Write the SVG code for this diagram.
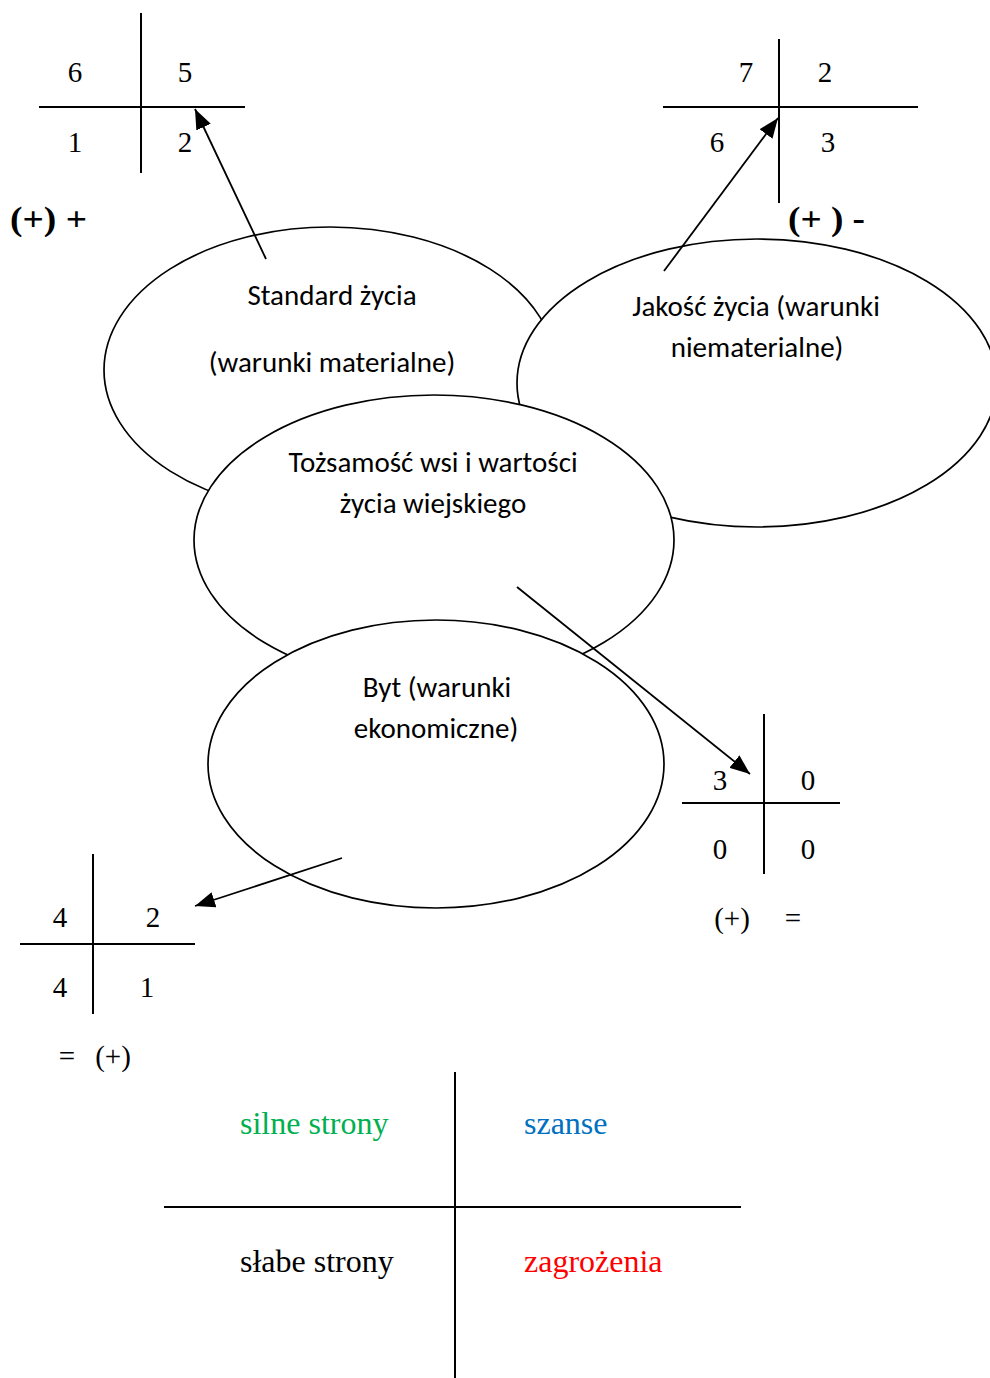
<svg xmlns="http://www.w3.org/2000/svg" width="990" height="1378" viewBox="0 0 990 1378">
<style>
.bg{fill:#fff}
.ell{fill:#fff;stroke:#000;stroke-width:1.7}
.grid{stroke:#000;stroke-width:2;fill:none}
.num{font-family:"Liberation Serif","Times New Roman",serif;font-size:29px;fill:#000;text-anchor:middle}
.bold{font-family:"Liberation Serif","Times New Roman",serif;font-size:33px;font-weight:bold;fill:#000}
.lbl{font-family:Carlito,Lato,"Open Sans",sans-serif;font-size:29px;fill:#000;text-anchor:middle}
.leg{font-family:"Liberation Serif","Times New Roman",serif;font-size:32px}
.conn{stroke:#000;stroke-width:1.8;fill:none;marker-end:url(#ah)}
</style>
<defs>
<marker id="ah" markerUnits="userSpaceOnUse" markerWidth="22" markerHeight="16" refX="20" refY="8" orient="auto">
<path d="M0,0 L20,8 L0,16 Z" fill="#000"/>
</marker>
</defs>
<rect class="bg" x="0" y="0" width="990" height="1378"/>

<g id="grid-top-left">
<line class="grid" x1="141" y1="13" x2="141" y2="173"/>
<line class="grid" x1="39" y1="107" x2="245" y2="107"/>
<text class="num" x="75" y="82">6</text>
<text class="num" x="185" y="82">5</text>
<text class="num" x="75" y="152">1</text>
<text class="num" x="185" y="152">2</text>
<text class="bold" x="10" y="230" textLength="77" lengthAdjust="spacingAndGlyphs">(+) +</text>
</g>

<g id="grid-top-right">
<line class="grid" x1="779" y1="39" x2="779" y2="203"/>
<line class="grid" x1="663" y1="107" x2="918" y2="107"/>
<text class="num" x="746" y="82">7</text>
<text class="num" x="825" y="82">2</text>
<text class="num" x="717" y="152">6</text>
<text class="num" x="828" y="152">3</text>
<text class="bold" x="788" y="230" textLength="77" lengthAdjust="spacingAndGlyphs">(+ ) -</text>
</g>

<g id="node-standard">
<ellipse class="ell" cx="330" cy="370" rx="226" ry="143"/>
<text class="lbl" x="332" y="305">Standard życia</text>
<text class="lbl" x="332" y="372">(warunki materialne)</text>
</g>

<g id="node-jakosc">
<ellipse class="ell" cx="757" cy="383" rx="240" ry="144"/>
<text class="lbl" x="756" y="316">Jakość życia (warunki</text>
<text class="lbl" x="757" y="357">niematerialne)</text>
</g>

<g id="node-tozsamosc">
<ellipse class="ell" cx="434" cy="540" rx="240" ry="145"/>
<text class="lbl" x="433" y="472">Tożsamość wsi i wartości</text>
<text class="lbl" x="433" y="513">życia wiejskiego</text>
</g>

<g id="node-byt">
<ellipse class="ell" cx="436" cy="764" rx="228" ry="144"/>
<text class="lbl" x="437" y="697">Byt (warunki</text>
<text class="lbl" x="436" y="738">ekonomiczne)</text>
</g>

<g id="grid-mid-right">
<line class="grid" x1="764" y1="714" x2="764" y2="874"/>
<line class="grid" x1="682" y1="803" x2="840" y2="803"/>
<text class="num" x="720" y="790">3</text>
<text class="num" x="808" y="790">0</text>
<text class="num" x="720" y="859">0</text>
<text class="num" x="808" y="859">0</text>
<text class="num" x="732" y="928">(+)</text>
<text class="num" x="793" y="928">=</text>
</g>

<g id="grid-bottom-left">
<line class="grid" x1="93" y1="854" x2="93" y2="1014"/>
<line class="grid" x1="20" y1="944" x2="195" y2="944"/>
<text class="num" x="60" y="927">4</text>
<text class="num" x="153" y="927">2</text>
<text class="num" x="60" y="997">4</text>
<text class="num" x="147" y="997">1</text>
<text class="num" x="67" y="1066">=</text>
<text class="num" x="113" y="1066">(+)</text>
</g>

<g id="connectors">
<line class="conn" x1="266" y1="259" x2="195" y2="109"/>
<line class="conn" x1="664" y1="271" x2="778" y2="118"/>
<line class="conn" x1="517" y1="587" x2="750" y2="774"/>
<line class="conn" x1="342" y1="858" x2="195" y2="906"/>
</g>

<g id="legend">
<line class="grid" x1="455" y1="1072" x2="455" y2="1378"/>
<line class="grid" x1="164" y1="1207" x2="741" y2="1207"/>
<text class="leg" x="240" y="1134" fill="#00B050">silne strony</text>
<text class="leg" x="524" y="1134" fill="#0070C0">szanse</text>
<text class="leg" x="240" y="1272" fill="#000">słabe strony</text>
<text class="leg" x="524" y="1272" fill="#FF0000">zagrożenia</text>
</g>
</svg>
